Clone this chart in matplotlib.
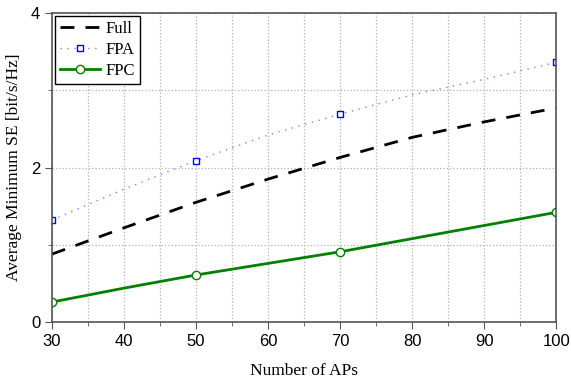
import matplotlib
matplotlib.use('Agg')
import matplotlib.pyplot as plt
from matplotlib.ticker import MultipleLocator

# data
n_aps = [30, 40, 50, 60, 70, 80, 90, 100]
se_full = [0.88, 1.22, 1.55, 1.85, 2.13, 2.39, 2.59, 2.77]
se_fpa = [1.32, 1.72, 2.09, 2.42, 2.69, 2.94, 3.14, 3.36]
se_fpc = [0.26, 0.44, 0.61, 0.76, 0.91, 1.08, 1.25, 1.42]
mark_idx = [0, 2, 4, 7]

fig = plt.figure(figsize=(5.71, 3.79), dpi=100)
ax = fig.add_axes([0.091, 0.150, 0.883, 0.816])

ax.plot(n_aps, se_full, color='black', linestyle=(0, (5, 4)), linewidth=2, label='Full')
ax.plot(n_aps, se_fpa, color='#7f7fff', linestyle=(0, (1, 4)), linewidth=1,
        marker='s', markersize=5, markerfacecolor='white', markeredgecolor='blue',
        markeredgewidth=1, markevery=mark_idx, label='FPA')
ax.plot(n_aps, se_fpc, color='green', linestyle='-', linewidth=2,
        marker='o', markersize=6, markerfacecolor='white', markeredgecolor='green',
        markeredgewidth=1, markevery=mark_idx, label='FPC')

ax.set_xlim(30, 100)
ax.set_ylim(0, 4)
ax.xaxis.set_major_locator(MultipleLocator(10))
ax.xaxis.set_minor_locator(MultipleLocator(5))
ax.yaxis.set_major_locator(MultipleLocator(2))
ax.yaxis.set_minor_locator(MultipleLocator(1))
ax.grid(which='both', color='#b0b0b0', linestyle=':', linewidth=0.9)
ax.set_axisbelow(True)

for s in ax.spines.values():
    s.set_color('#555555')
    s.set_linewidth(1.2)
ax.tick_params(which='both', direction='out', color='#555555', labelsize=12)
ax.tick_params(which='major', length=5)
ax.tick_params(which='minor', length=3)
for lab in ax.get_xticklabels() + ax.get_yticklabels():
    lab.set_fontfamily('Liberation Sans')

ax.set_xlabel('Number of APs', fontsize=12.5, fontfamily='Liberation Serif', labelpad=10)
ax.set_ylabel('Average Minimum SE [bit/s/Hz]', fontsize=12.5, fontfamily='Liberation Serif',
              labelpad=6)

leg = ax.legend(loc='upper left', fancybox=False, framealpha=1, edgecolor='black',
                prop={'family': 'Liberation Serif', 'size': 12}, borderaxespad=0.2,
                handlelength=2.4, borderpad=0.3, labelspacing=0.3, handletextpad=0.3)
leg.get_frame().set_linewidth(1)

plt.savefig('out.png')
